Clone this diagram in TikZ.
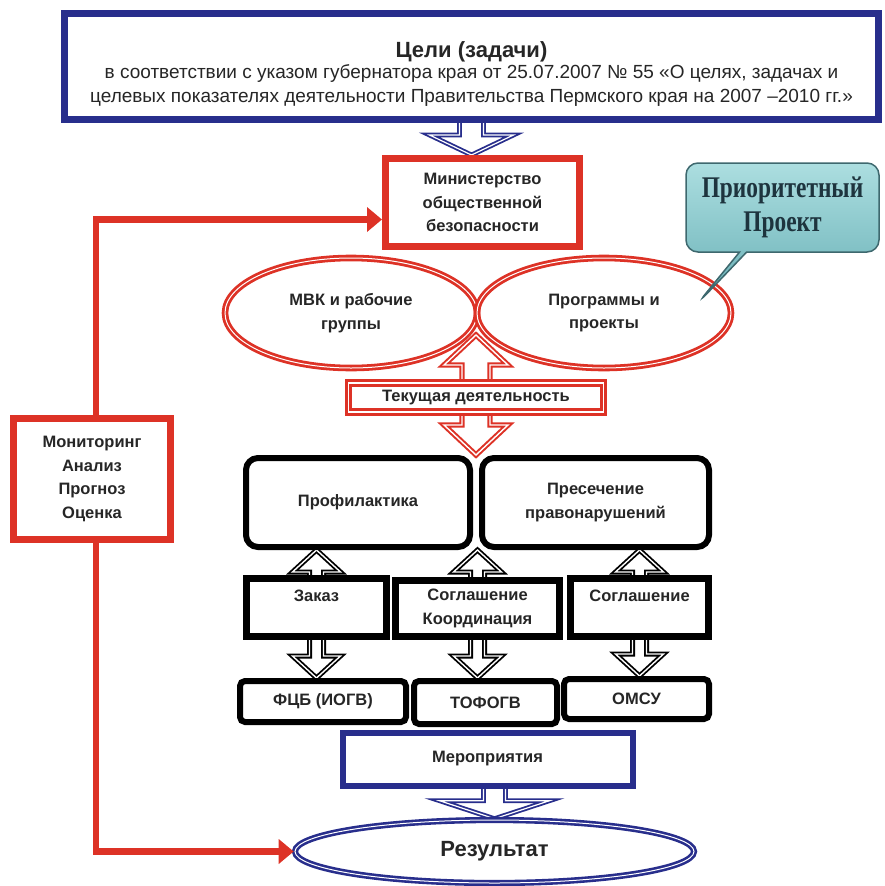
\documentclass[tikz,border=0pt]{standalone}
\usepackage{fontspec}
\setmainfont{Liberation Sans}
\newfontfamily\prioface{Liberation Serif}[FakeStretch=0.78]
\usetikzlibrary{shapes.geometric,shapes.callouts,arrows.meta,backgrounds,calc}

\definecolor{govblue}{RGB}{40,46,140}
\definecolor{govred}{RGB}{221,50,38}
\definecolor{inkgray}{RGB}{38,38,38}
\definecolor{tealtop}{RGB}{172,222,224}
\definecolor{tealbot}{RGB}{104,176,182}
\definecolor{tealedge}{RGB}{62,104,110}
\definecolor{prioink}{RGB}{30,52,62}

% hollow arrow with heads at both ends: style, top tip, bottom tip, shaft, head, head length
\newcommand{\twowayarrow}[6]{%
  \draw[#1] let \p1=(#2), \p2=(#3) in
    (\x1,\y1) -- (\x1+#5,\y1-#6) -- (\x1+#4,\y1-#6) -- (\x1+#4,\y2+#6)
    -- (\x1+#5,\y2+#6) -- (\x1,\y2) -- (\x1-#5,\y2+#6) -- (\x1-#4,\y2+#6)
    -- (\x1-#4,\y1-#6) -- (\x1-#5,\y1-#6) -- cycle;}
% hollow arrow pointing down, open at its top
\newcommand{\sinkarrow}[6]{%
  \draw[#1] let \p1=(#2), \p2=(#3) in
    (\x2-#4,\y1) -- (\x2-#4,\y2+#6) -- (\x2-#5,\y2+#6) -- (\x2,\y2)
    -- (\x2+#5,\y2+#6) -- (\x2+#4,\y2+#6) -- (\x2+#4,\y1);}

\begin{document}
\begin{tikzpicture}[x=1pt,y=-1pt,
  base/.style={font=\fontsize{16.5}{23.5}\selectfont\bfseries, text=inkgray,
    align=center, inner sep=0pt},
  bluebox/.style={base, rectangle, draw=govblue, line width=7pt, fill=white},
  redbox/.style={base, rectangle, draw=govred, line width=7pt, fill=white},
  redring/.style={base, ellipse, draw=govred, line width=2.8pt, double=white,
    double distance=1pt},
  bluering/.style={base, ellipse, draw=govblue, line width=2.6pt, double=white,
    double distance=1pt, fill=white},
  twinbox/.style={base, rectangle, draw=govred, line width=3pt, double=white,
    double distance=1.2pt, fill=white},
  softbox/.style={base, rectangle, draw=black, line width=6pt, fill=white,
    rounded corners=12pt},
  linkbox/.style={base, rectangle, draw=black, line width=7pt, fill=white},
  unitbox/.style={base, rectangle, draw=black, line width=6pt, fill=white,
    rounded corners=5pt},
  priobox/.style={rectangle callout, rounded corners=12pt, draw=tealedge,
    line width=1.5pt, top color=tealtop, bottom color=tealbot, text=prioink,
    font=\prioface\bfseries\fontsize{30}{34}\selectfont, align=center},
  redline/.style={draw=govred, line width=6.5pt,
    -{Triangle[length=15pt,width=24pt]}},
  hollowblue/.style={draw=govblue, line width=1.8pt, double=white,
    double distance=1.2pt, fill=white, line join=miter},
  hollowred/.style={draw=govred, line width=2pt, double=white,
    double distance=1.4pt, fill=white, line join=miter},
  hollowblack/.style={draw=black, line width=1.8pt, double=white,
    double distance=1.4pt, fill=white, line join=miter}]
\useasboundingbox (0,0) rectangle (885,886);

% goals and ministry
\node[bluebox, minimum width=814pt, minimum height=106pt] (goals) at (471.5,66.5)
  {\rule{0pt}{30pt}\fontsize{22}{26}\selectfont Цели (задачи)\\[-2pt]
   \mdseries\fontsize{19}{24.5}\selectfont
   в соответствии с указом губернатора края от 25.07.2007 № 55 «О целях, задачах и\\
   \mdseries\fontsize{19}{24.5}\selectfont
   целевых показателях деятельности Правительства Пермского края на 2007 –2010 гг.»};
\node[redbox, minimum width=194pt, minimum height=88pt] (min) at (482.5,202.5)
  {Министерство\\общественной\\безопасности};

% ellipses and callout
\node[redring, minimum width=252pt, minimum height=110pt] (mvk) at (351,313)
  {МВК и рабочие\\группы};
\node[redring, minimum width=254pt, minimum height=110pt] (prog) at (604,313)
  {Программы и\\проекты};
\node[priobox, minimum width=193pt, minimum height=89pt,
  callout absolute pointer={(698,303)}] (prio) at (782.5,207.5)
  {Приоритетный\\Проект};
\coordinate (knot) at (476,335);
\node[twinbox, minimum width=255pt, minimum height=29pt] (tek) at (476,397.5)
  {Текущая деятельность};

% monitoring
\node[redbox, minimum width=157pt, minimum height=121pt] (mon) at (92,479)
  {Мониторинг\\Анализ\\Прогноз\\Оценка};

% black blocks
\node[softbox, minimum width=224pt, minimum height=89pt] (prof) at (358,502.5)
  {Профилактика};
\node[softbox, minimum width=227pt, minimum height=89pt] (pres) at (595.5,502.5)
  {Пресечение\\правонарушений};
\node[linkbox, minimum width=140pt, minimum height=58pt] (zak) at (316.5,607.5)
  {Заказ\\\mbox{}};
\node[linkbox, minimum width=164pt, minimum height=56pt] (sogl) at (477.5,608.5)
  {Соглашение\\Координация};
\node[linkbox, minimum width=138pt, minimum height=58pt] (sogl2) at (639.5,607.5)
  {Соглашение\\\mbox{}};
\node[unitbox, minimum width=166pt, minimum height=41pt] (fcb) at (323,701.5)
  {ФЦБ (ИОГВ)};
\node[unitbox, minimum width=143pt, minimum height=43pt] (tof) at (485.5,702.5)
  {ТОФОГВ};
\node[unitbox, minimum width=145pt, minimum height=40pt] (omsu) at (636.5,699)
  {ОМСУ};

% measures and result
\node[bluebox, line width=6pt, minimum width=290pt, minimum height=53pt] (mer) at (487.5,759)
  {Мероприятия};
\node[bluering, minimum width=399pt, minimum height=63pt,
  font=\fontsize{22}{26}\selectfont\bfseries] (res) at (494.5,851.5) {Результат};

% feedback lines
\draw[redline] ([xshift=4pt]mon.north) |- ([yshift=-17pt]min.west);
\draw[redline] ([xshift=4pt]mon.south) |- (res.west);

\begin{scope}[on background layer]
  \sinkarrow{hollowblue}{[yshift=3pt]goals.south}{goals.south |- min.north}{12pt}{42pt}{20pt}
  \twowayarrow{hollowred}{knot}{$(prof.north east)!0.5!(pres.north west)$}{14pt}{32pt}{30pt}
  \twowayarrow{hollowblack}{zak |- prof.south}{zak |- fcb.north}{7pt}{24pt}{22pt}
  \twowayarrow{hollowblack}{sogl |- prof.south}{sogl |- tof.north}{7pt}{24pt}{22pt}
  \twowayarrow{hollowblack}{sogl2 |- pres.south}{sogl2 |- omsu.north}{7pt}{24pt}{22pt}
  \sinkarrow{hollowblue}{[yshift=3pt]mer.south}{res.north}{11pt}{55pt}{18pt}
\end{scope}
\end{tikzpicture}
\end{document}
